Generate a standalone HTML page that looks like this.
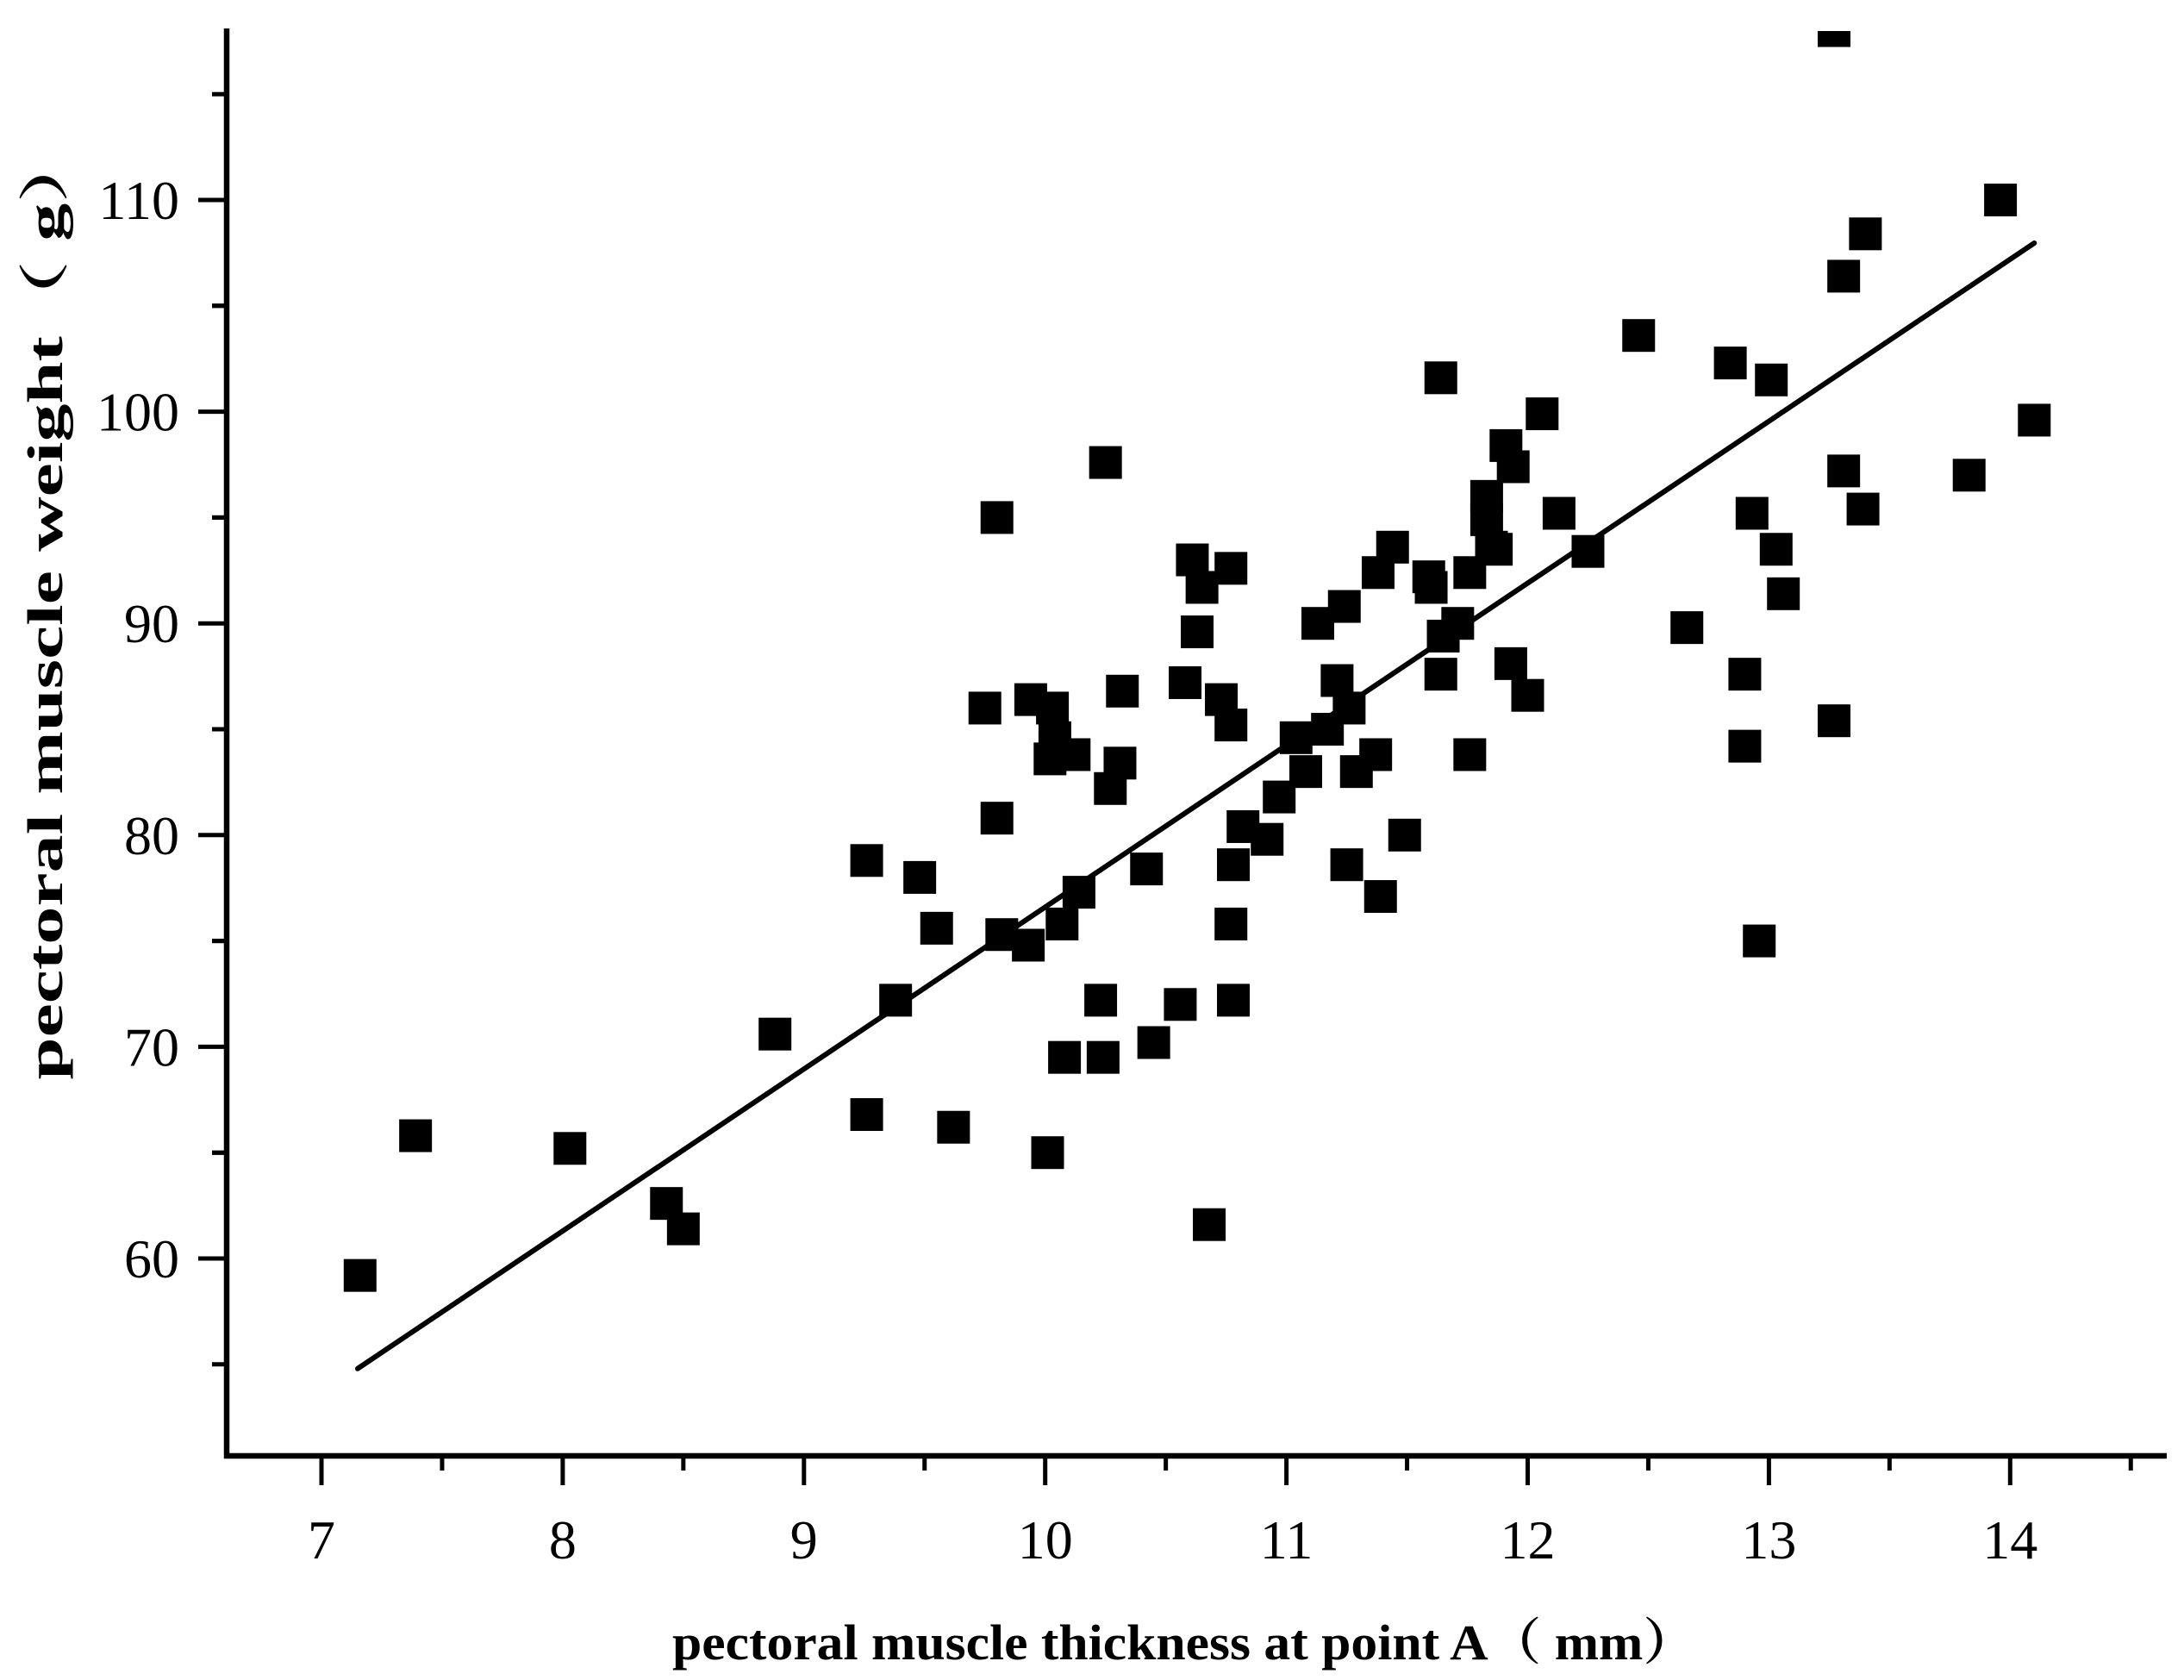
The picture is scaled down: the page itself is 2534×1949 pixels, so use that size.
<!DOCTYPE html>
<html><head><meta charset="utf-8"><style>
html,body{margin:0;padding:0;background:#fff;}
svg{display:block;}
text{font-family:"Liberation Serif","Noto Serif CJK SC",serif;fill:#000;}
</style></head><body>
<svg id="chart" width="2534" height="1949" viewBox="0 0 2534 1949" xmlns="http://www.w3.org/2000/svg">
<defs><clipPath id="plotclip"><rect x="263" y="36" width="2260" height="1660"/></clipPath></defs>
<g id="axes"></g>
<g id="marks" clip-path="url(#plotclip)"></g>
<text x="1374" y="1925" text-anchor="middle" font-size="58" font-weight="bold" textLength="1188" lengthAdjust="spacingAndGlyphs">pectoral muscle thickness at point A（ mm）</text>
<text transform="translate(72,700) rotate(-90)" text-anchor="middle" font-size="58" font-weight="bold" textLength="1105" lengthAdjust="spacingAndGlyphs">pectoral muscle weight（ g）</text>
</svg>
<script>
const xValues=[7.16,7.39,8.03,8.43,8.50,8.88,9.26,9.26,9.38,9.48,9.55,9.62,9.75,9.80,9.80,9.82,9.93,9.94,10.02,10.03,10.04,10.01,10.07,10.08,10.12,10.14,10.23,10.24,10.25,10.27,10.31,10.32,10.42,10.45,10.56,10.58,10.61,10.63,10.65,10.68,10.73,10.77,10.77,10.78,10.77,10.78,10.82,10.92,10.97,11.04,11.08,11.13,11.17,11.21,11.24,11.25,11.26,11.29,11.37,11.38,11.39,11.44,11.49,11.59,11.60,11.64,11.64,11.65,11.71,11.76,11.76,11.83,11.83,11.85,11.87,11.91,11.93,11.94,12.00,12.06,12.13,12.25,12.46,12.66,12.84,12.90,12.90,12.93,12.96,13.01,13.03,13.06,13.27,13.27,13.31,13.31,13.39,13.40,13.83,13.96,14.10];
const yValues=[59.2,65.8,65.2,62.6,61.4,70.6,78.8,66.8,72.2,78.0,75.6,66.2,86.0,95.0,80.8,75.3,74.8,86.4,83.6,86.0,84.6,65.0,75.8,69.5,83.8,77.3,72.2,69.5,97.6,82.2,83.4,86.8,78.4,70.2,72.0,87.2,93.0,89.6,91.7,61.6,86.4,92.6,85.2,78.6,75.8,72.2,80.4,79.8,81.8,84.6,83.0,90.0,85.0,87.3,90.8,78.6,86.0,83.0,83.8,92.4,77.1,93.6,80.0,92.2,91.7,87.6,101.6,89.4,90.0,83.8,92.4,96.0,94.9,93.6,93.5,98.4,88.1,97.4,86.6,99.9,95.2,93.4,103.6,89.8,102.3,84.2,87.6,95.2,75.0,101.5,93.5,91.4,85.4,118.0,97.2,106.4,95.4,108.4,97.0,110.0,99.6];
const xTickLabels=["7","8","9","10","11","12","13","14"];
const yTickLabels=["60","70","80","90","100","110"];
const fitSlope=7.65;
const fitIntercept=0.10;
const fitRange=[7.15,14.1];

const NS="http://www.w3.org/2000/svg";
function X(v){return 373+(v-7)*279.9;}
function Y(v){return 1460-(v-60)*24.56;}
function mk(tag,attrs,parent){const e=document.createElementNS(NS,tag);for(const k in attrs)e.setAttribute(k,attrs[k]);parent.appendChild(e);return e;}
const axes=document.getElementById('axes');
const marks=document.getElementById('marks');
const L=263,B=1689,R=2514,T=33;
let a=mk('line',{x1:L,y1:T,x2:L,y2:B+3,stroke:'#000','stroke-width':6.5},axes);


a=mk('line',{x1:L-3,y1:B,x2:R,y2:B,stroke:'#000','stroke-width':6.5},axes);


xTickLabels.forEach(s=>{const v=parseFloat(s);const x=X(v);
 let t=mk('line',{x1:x,y1:B,x2:x,y2:B+34,stroke:'#000','stroke-width':5},axes);
 
 
 let tx=mk('text',{x:x,y:1808,'text-anchor':'middle','font-size':64},axes);tx.textContent=s;
 
 
 const m=X(v+0.5);if(m<R){let mt=mk('line',{x1:m,y1:B,x2:m,y2:B+17,stroke:'#000','stroke-width':5},axes);
 
 }
});
yTickLabels.forEach(s=>{const v=parseFloat(s);const y=Y(v);
 let t=mk('line',{x1:L,y1:y,x2:L-33,y2:y,stroke:'#000','stroke-width':5},axes);
 
 
 let tx=mk('text',{x:208,y:y+22,'text-anchor':'end','font-size':64},axes);tx.textContent=s;
 
 
 [v-5,v+5].forEach(mv=>{if(mv===v+5&&v!==110&&mv%10===0)return;const my=Y(mv);if(my<T||my>B)return;
  let mt=mk('line',{x1:L,y1:my,x2:L-17,y2:my,stroke:'#000','stroke-width':5},axes);
  
  });
});
let fl=mk('line',{x1:X(fitRange[0]),y1:Y(fitSlope*fitRange[0]+fitIntercept),x2:X(fitRange[1]),y2:Y(fitSlope*fitRange[1]+fitIntercept),stroke:'#000','stroke-width':6,'stroke-linecap':'round'},marks);


const S=38;
xValues.forEach((xv,i)=>{const r=mk('rect',{x:X(xv)-S/2,y:Y(yValues[i])-S/2,width:S,height:S,fill:'#000'},marks);
 
 
});
</script>
</body></html>
